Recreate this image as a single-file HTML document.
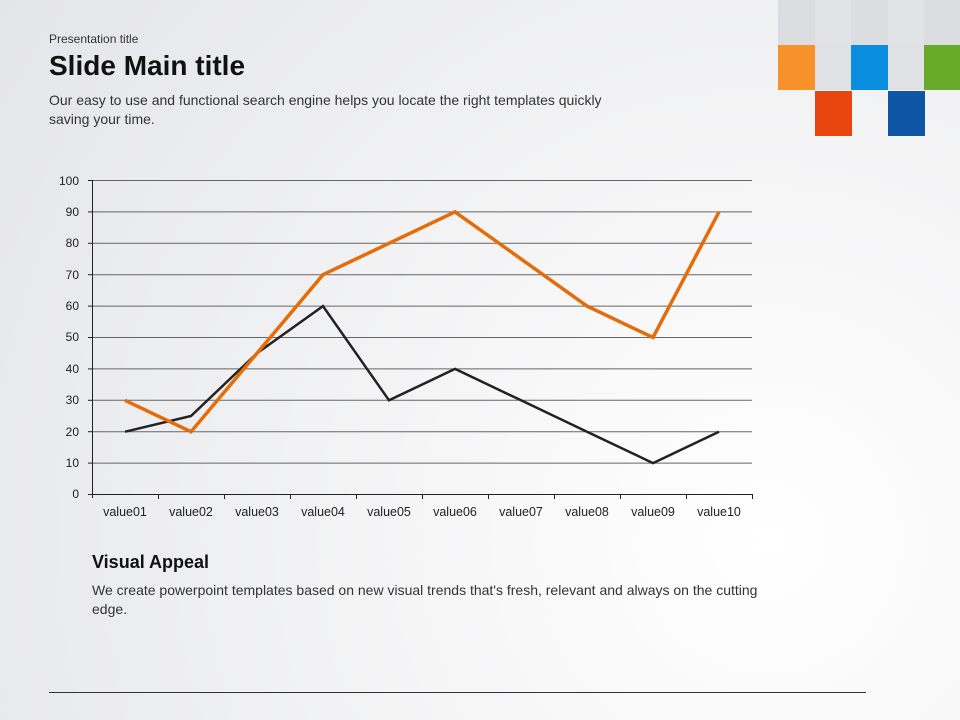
<!DOCTYPE html>
<html><head><style>
body{margin:0;width:960px;height:720px;overflow:hidden;font-family:"Liberation Sans",sans-serif;background:radial-gradient(circle at 80% 75%,#ffffff 0%,#f6f6f7 35%,#e4e5e8 100%);position:relative}
.t{position:absolute;left:49px;color:#222}
.c{position:absolute;width:37px;height:45px}
</style></head><body>
<div class="t" style="top:32px;font-size:12px;color:#333">Presentation title</div>
<div class="t" style="top:50px;font-size:28px;font-weight:bold;color:#111">Slide Main title</div>
<div class="t" style="top:91px;font-size:14px;line-height:19px;color:#333;width:590px">Our easy to use and functional search engine helps you locate the right templates quickly saving your time.</div>
<div class="c" style="left:778px;top:0;background:#dcdde0"></div>
<div class="c" style="left:815px;top:0;background:#e2e3e6"></div>
<div class="c" style="left:851px;top:0;background:#dcdde0"></div>
<div class="c" style="left:888px;top:0;background:#e2e3e6"></div>
<div class="c" style="left:924px;top:0;background:#dcdde0"></div>
<div class="c" style="left:778px;top:45px;background:#f7922a"></div>
<div class="c" style="left:815px;top:45px;background:#e0e1e4"></div>
<div class="c" style="left:851px;top:45px;background:#0a8fe0"></div>
<div class="c" style="left:888px;top:45px;background:#e0e1e4"></div>
<div class="c" style="left:924px;top:45px;background:#6aaa2a"></div>
<div class="c" style="left:815px;top:91px;background:#e9460f"></div>
<div class="c" style="left:888px;top:91px;background:#0f55a5"></div>
<svg width="960" height="720" style="position:absolute;left:0;top:0" font-family="Liberation Sans, sans-serif">
<g stroke="#666" stroke-width="1">
<line x1="92" y1="180.5" x2="752" y2="180.5"/><line x1="92" y1="211.9" x2="752" y2="211.9"/><line x1="92" y1="243.3" x2="752" y2="243.3"/><line x1="92" y1="274.7" x2="752" y2="274.7"/><line x1="92" y1="306.1" x2="752" y2="306.1"/><line x1="92" y1="337.5" x2="752" y2="337.5"/><line x1="92" y1="368.9" x2="752" y2="368.9"/><line x1="92" y1="400.3" x2="752" y2="400.3"/><line x1="92" y1="431.7" x2="752" y2="431.7"/><line x1="92" y1="463.1" x2="752" y2="463.1"/>
</g>
<g stroke="#222" stroke-width="1">
<line x1="92.5" y1="180" x2="92.5" y2="498"/><line x1="88" y1="494.5" x2="752" y2="494.5"/>
<line x1="88" y1="180.5" x2="92" y2="180.5"/><line x1="88" y1="211.9" x2="92" y2="211.9"/><line x1="88" y1="243.3" x2="92" y2="243.3"/><line x1="88" y1="274.7" x2="92" y2="274.7"/><line x1="88" y1="306.1" x2="92" y2="306.1"/><line x1="88" y1="337.5" x2="92" y2="337.5"/><line x1="88" y1="368.9" x2="92" y2="368.9"/><line x1="88" y1="400.3" x2="92" y2="400.3"/><line x1="88" y1="431.7" x2="92" y2="431.7"/><line x1="88" y1="463.1" x2="92" y2="463.1"/>
<line x1="158.5" y1="494" x2="158.5" y2="499"/><line x1="224.5" y1="494" x2="224.5" y2="499"/><line x1="290.5" y1="494" x2="290.5" y2="499"/><line x1="356.5" y1="494" x2="356.5" y2="499"/><line x1="422.5" y1="494" x2="422.5" y2="499"/><line x1="488.5" y1="494" x2="488.5" y2="499"/><line x1="554.5" y1="494" x2="554.5" y2="499"/><line x1="620.5" y1="494" x2="620.5" y2="499"/><line x1="686.5" y1="494" x2="686.5" y2="499"/><line x1="752.5" y1="494" x2="752.5" y2="499"/>
</g>
<g font-size="12" fill="#222" text-anchor="end">
<text x="79" y="185">100</text><text x="79" y="216">90</text><text x="79" y="247">80</text><text x="79" y="279">70</text><text x="79" y="310">60</text><text x="79" y="341">50</text><text x="79" y="373">40</text><text x="79" y="404">30</text><text x="79" y="436">20</text><text x="79" y="467">10</text><text x="79" y="498">0</text>
</g>
<g font-size="12.5" fill="#222" text-anchor="middle">
<text x="125" y="516">value01</text><text x="191" y="516">value02</text><text x="257" y="516">value03</text><text x="323" y="516">value04</text><text x="389" y="516">value05</text><text x="455" y="516">value06</text><text x="521" y="516">value07</text><text x="587" y="516">value08</text><text x="653" y="516">value09</text><text x="719" y="516">value10</text>
</g>
<polyline fill="none" stroke="#222" stroke-width="2.5" points="125,431.7 191,416 257,353.2 323,306.1 389,400.3 455,368.9 521,400.3 587,431.7 653,463.1 719,431.7"/>
<polyline fill="none" stroke="#e46c0a" stroke-width="3.5" points="125,400.3 191,431.7 257,353.2 323,274.7 389,243.3 455,211.9 521,258.9 587,306.1 653,337.5 719,211.9"/>
<line x1="49" y1="692.5" x2="866" y2="692.5" stroke="#333" stroke-width="1"/>
</svg>
<div style="position:absolute;left:92px;top:552px;font-size:18px;font-weight:bold;color:#111">Visual Appeal</div>
<div style="position:absolute;left:92px;top:581px;width:700px;font-size:14px;line-height:19px;color:#333">We create powerpoint templates based on new visual trends that's fresh, relevant and always on the cutting edge.</div>
</body></html>
